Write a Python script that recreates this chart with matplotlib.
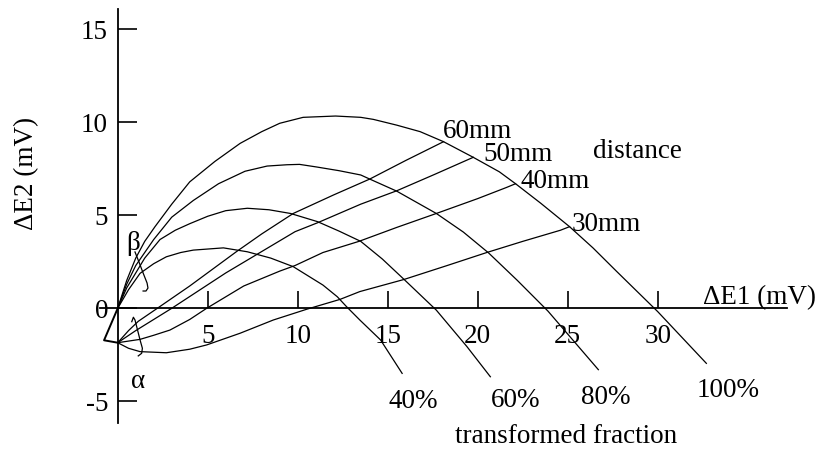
import matplotlib

matplotlib.use("Agg")
import matplotlib.pyplot as plt

plt.rcParams["font.family"] = ["Liberation Serif", "DejaVu Serif"]
plt.rcParams["font.size"] = 19.5

# transformed fraction curves (start at the origin)
f100_x = [0, 0.5, 1.0, 1.5, 2.07, 3.0, 4.0, 5.4, 6.8, 8.0, 9.0, 10.3, 12.1, 13.5, 14.2,
          15.5, 16.8, 18.1, 19.75, 21.2, 22.1, 23.5, 25.1, 26.4, 27.7, 30.0, 32.7]
f100_y = [0, 1.5, 2.7, 3.6, 4.39, 5.6, 6.8, 7.9, 8.87, 9.5, 9.95, 10.27, 10.34, 10.27, 10.16,
          9.85, 9.5, 8.96, 8.12, 7.34, 6.7, 5.65, 4.39, 3.25, 2.0, -0.18, -2.96]

f80_x = [0, 0.5, 1.0, 2.0, 3.0, 4.2, 5.6, 7.07, 8.3, 9.4, 10.1, 11.05, 12.3, 13.5, 14.0,
         15.5, 17.7, 19.2, 20.6, 22.2, 23.9, 26.7]
f80_y = [0, 1.3, 2.3, 3.7, 4.9, 5.8, 6.7, 7.37, 7.65, 7.72, 7.74, 7.6, 7.4, 7.17, 6.95,
         6.3, 5.1, 4.1, 2.98, 1.5, -0.15, -3.3]

f60_x = [0, 0.5, 1.0, 1.5, 2.35, 3.2, 4.0, 5.0, 6.0, 7.2, 8.4, 9.6, 11.1, 12.3, 13.5,
         14.7, 15.9, 17.7, 19.4, 20.7]
f60_y = [0, 1.1, 1.9, 2.7, 3.7, 4.2, 4.55, 4.95, 5.25, 5.38, 5.3, 5.1, 4.66, 4.15, 3.6,
         2.65, 1.56, -0.1, -2.06, -3.68]

f40_x = [0, 0.6, 1.24, 2.0, 2.7, 3.5, 4.2, 5.87, 7.2, 8.5, 9.75, 11.4, 12.2, 12.7, 13.45,
         14.6, 15.8]
f40_y = [0, 1.0, 1.88, 2.4, 2.77, 3.0, 3.13, 3.25, 3.04, 2.7, 2.24, 1.25, 0.62, 0.1, -0.63,
         -1.7, -3.5]

# distance curves (start below the origin)
d60_x = [0, 0.6, 1.14, 2.2, 4.0, 6.6, 8.0, 9.75, 12.0, 14.0, 16.0, 18.1]
d60_y = [-1.85, -1.2, -0.7, 0, 1.2, 3.05, 4.0, 5.1, 6.1, 6.95, 7.95, 8.96]

d50_x = [0, 1.0, 2.0, 3.0, 6.0, 9.85, 11.1, 13.5, 15.5, 17.6, 19.75]
d50_y = [-1.85, -1.2, -0.6, 0, 1.9, 4.12, 4.6, 5.6, 6.32, 7.2, 8.12]

d40_x = [0, 1.24, 2.0, 2.9, 4.0, 4.94, 7.0, 9.0, 9.85, 11.4, 13.4, 15.5, 17.7, 20.0, 21.6, 22.1]
d40_y = [-1.85, -1.67, -1.45, -1.17, -0.6, 0, 1.2, 2.0, 2.3, 3.0, 3.6, 4.35, 5.1, 5.9, 6.5, 6.7]

d30_x = [0, 0.6, 1.24, 2.7, 4.0, 4.94, 6.8, 8.64, 10.5, 12.35, 13.45, 15.9, 18.3, 20.5,
         22.5, 24.6, 25.1]
d30_y = [-1.85, -2.15, -2.33, -2.39, -2.2, -1.97, -1.34, -0.63, -0.05, 0.48, 0.9, 1.55, 2.3,
         3.0, 3.6, 4.2, 4.39]

# small triangle at the start and the alpha / beta brackets
tri_x = [0, -0.76, 0]
tri_y = [0, -1.72, -1.85]
beta_x = [0.96, 1.18, 1.41, 1.63, 1.68, 1.57, 1.41]
beta_y = [3.03, 2.49, 1.9, 1.36, 1.09, 0.93, 0.93]
alpha_x = [0.78, 0.87, 0.96, 1.24, 1.37, 1.33, 1.14]
alpha_y = [-0.72, -0.48, -0.63, -1.7, -2.15, -2.42, -2.56]

x_ticks = [5, 10, 15, 20, 25, 30]
y_ticks = [-5, 0, 5, 10, 15]
y_tick_labels = ["-5", "0", "5", "10", "15"]

distance_labels = ["60mm", "50mm", "40mm", "30mm"]
distance_label_x = [18.05, 20.3, 22.4, 25.2]
distance_label_y = [9.17, 7.94, 6.48, 4.17]

fraction_labels = ["40%", "60%", "80%", "100%"]
fraction_label_x = [16.4, 22.1, 27.1, 33.9]
fraction_label_y = [-5.38, -5.29, -5.15, -4.79]


def main() -> None:
    fig = plt.figure(figsize=(8.23, 4.5), dpi=100)
    ax = fig.add_axes([0, 0, 1, 1])
    ax.set_xlim(-6.54, 39.18)
    ax.set_ylim(-7.62, 16.58)

    lw = 0.9
    for xs, ys in [(f100_x, f100_y), (f80_x, f80_y), (f60_x, f60_y), (f40_x, f40_y),
                   (d60_x, d60_y), (d50_x, d50_y), (d40_x, d40_y), (d30_x, d30_y)]:
        ax.plot(xs, ys, color="black", lw=lw)
    ax.plot(tri_x, tri_y, color="black", lw=1.4)
    ax.plot(beta_x, beta_y, color="black", lw=lw)
    ax.plot(alpha_x, alpha_y, color="black", lw=lw)

    # axes through the origin
    for side in ["top", "right"]:
        ax.spines[side].set_visible(False)
    ax.spines["left"].set_position(("data", 0))
    ax.spines["bottom"].set_position(("data", 0))
    ax.spines["left"].set_bounds(-6.18, 16.1)
    ax.spines["bottom"].set_bounds(-0.98, 37.2)
    for side in ["left", "bottom"]:
        ax.spines[side].set_linewidth(1.3)

    ax.set_xticks(x_ticks)
    ax.set_yticks(y_ticks)
    ax.set_yticklabels(y_tick_labels)
    ax.tick_params(axis="x", direction="in", length=12, width=1.2, pad=11)
    ax.tick_params(axis="y", direction="in", length=13.7, width=1.2, pad=7)

    ax.set_xlabel("\u0394E1 (mV)", ha="left", va="baseline")
    ax.xaxis.set_label_coords(703.3 / 823, 1 - 304.3 / 450)
    ax.set_ylabel("\u0394E2 (mV)", va="center")
    ax.yaxis.set_label_coords(27 / 823, 1 - 173 / 450)

    for txt, x, y in zip(distance_labels, distance_label_x, distance_label_y):
        ax.text(x, y, txt, ha="left", va="baseline")
    ax.text(26.4, 8.06, "distance", ha="left", va="baseline")

    for txt, x, y in zip(fraction_labels, fraction_label_x, fraction_label_y):
        ax.text(x, y, txt, ha="center", va="baseline")
    ax.text(24.9, -7.22, "transformed fraction", ha="center", va="baseline")

    ax.text(0.87, 3.49, "\u03b2", ha="center", va="center")
    ax.text(1.14, -4.3, "\u03b1", ha="center", va="baseline")

    fig.savefig("out.png", dpi=100)


if __name__ == "__main__":
    main()
